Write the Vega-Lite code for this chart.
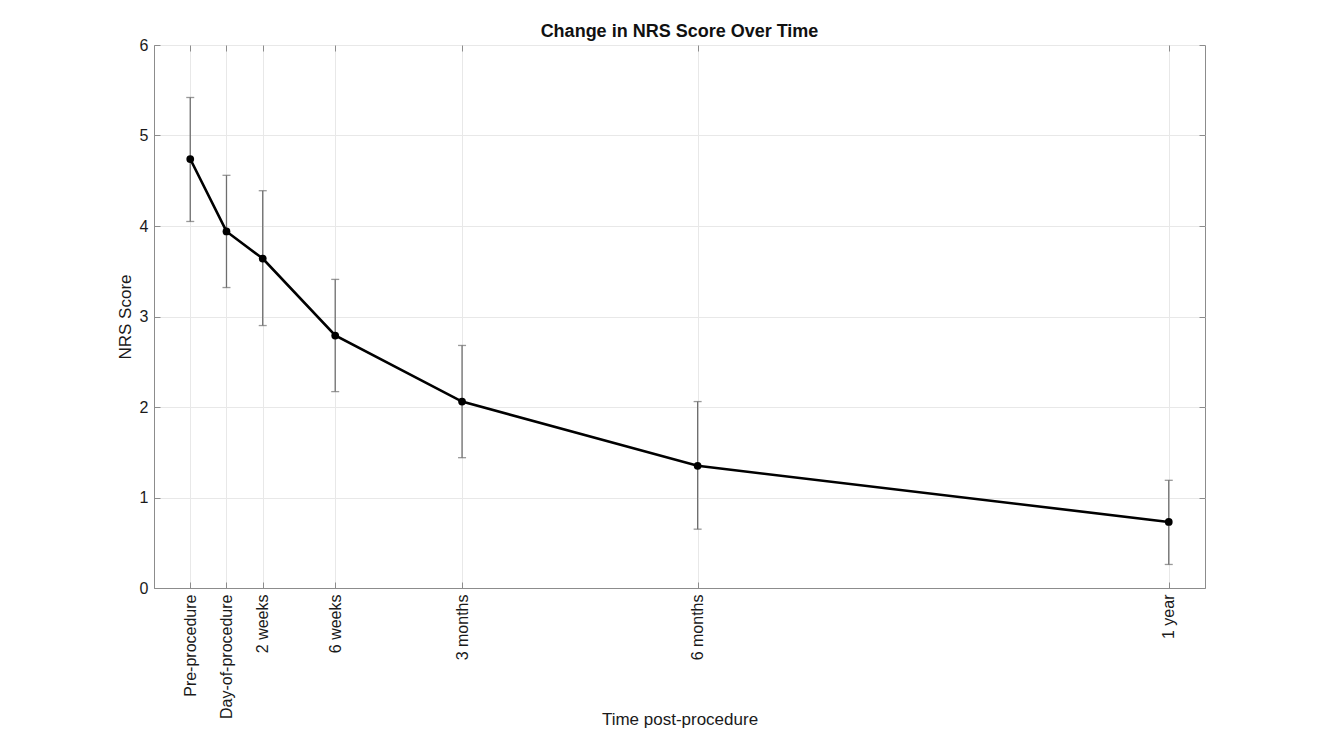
{
  "$schema": "https://vega.github.io/schema/vega-lite/v6.json",
  "autosize": "none",
  "padding": {"left": 154, "top": 45, "right": 113, "bottom": 157},
  "width": 1051,
  "height": 543,
  "background": "white",
  "config": {
    "font": "Liberation Sans",
    "view": {"stroke": "#8c8c8c", "strokeWidth": 1},
    "axis": {
      "domainColor": "#8c8c8c",
      "tickColor": "#8c8c8c",
      "gridColor": "#e8e8e8",
      "labelFont": "Liberation Sans",
      "titleFont": "Liberation Sans",
      "labelFontSize": 16,
      "titleFontSize": 17,
      "labelColor": "#1a1a1a",
      "titleColor": "#1a1a1a",
      "titleFontWeight": "normal"
    }
  },
  "title": {
    "text": "Change in NRS Score Over Time",
    "fontSize": 18,
    "fontWeight": "bold",
    "font": "Liberation Sans",
    "color": "#111111",
    "anchor": "middle",
    "offset": -4
  },
  "data": {
    "values": [
      {"time": "Pre-procedure", "week": -2, "mean": 4.74, "lo": 4.05, "hi": 5.42},
      {"time": "Day-of-procedure", "week": 0, "mean": 3.94, "lo": 3.32, "hi": 4.56},
      {"time": "2 weeks", "week": 2, "mean": 3.64, "lo": 2.90, "hi": 4.39},
      {"time": "6 weeks", "week": 6, "mean": 2.79, "lo": 2.17, "hi": 3.41},
      {"time": "3 months", "week": 13, "mean": 2.06, "lo": 1.44, "hi": 2.68},
      {"time": "6 months", "week": 26, "mean": 1.35, "lo": 0.65, "hi": 2.06},
      {"time": "1 year", "week": 52, "mean": 0.73, "lo": 0.26, "hi": 1.19}
    ]
  },
  "resolve": {"axis": {"x": "independent", "y": "independent"}},
  "layer": [
    {
      "mark": {"type": "rule", "color": "#6e6e6e", "strokeWidth": 1.3},
      "encoding": {
        "x": {
          "field": "week", "type": "quantitative",
          "scale": {"domain": [-4, 54], "nice": false, "zero": false},
          "axis": {
            "values": [-2, 0, 2, 6, 13, 26, 52],
            "labelExpr": "datum.value == -2 ? 'Pre-procedure' : datum.value == 0 ? 'Day-of-procedure' : datum.value == 2 ? '2 weeks' : datum.value == 6 ? '6 weeks' : datum.value == 13 ? '3 months' : datum.value == 26 ? '6 months' : '1 year'",
            "labelAngle": -90,
            "labelAlign": "right",
            "labelBaseline": "middle",
            "labelPadding": 12,
            "tickSize": -6,
            "grid": true,
            "title": "Time post-procedure",
            "titleY": 131,
            "titleBaseline": "middle",
            "orient": "bottom"
          }
        },
        "y": {
          "field": "lo", "type": "quantitative",
          "scale": {"domain": [0, 6], "nice": false},
          "axis": {
            "values": [0, 1, 2, 3, 4, 5, 6],
            "tickSize": -6,
            "labelPadding": 12,
            "grid": true,
            "title": "NRS Score",
            "titleX": -29,
            "titleBaseline": "middle"
          }
        },
        "y2": {"field": "hi"}
      }
    },
    {
      "mark": {"type": "tick", "color": "#6e6e6e", "size": 8, "thickness": 1.3, "orient": "horizontal"},
      "encoding": {
        "x": {"field": "week", "type": "quantitative", "axis": null},
        "y": {"field": "lo", "type": "quantitative", "axis": null}
      }
    },
    {
      "mark": {"type": "tick", "color": "#6e6e6e", "size": 8, "thickness": 1.3, "orient": "horizontal"},
      "encoding": {
        "x": {"field": "week", "type": "quantitative", "axis": null},
        "y": {"field": "hi", "type": "quantitative", "axis": null}
      }
    },
    {
      "mark": {"type": "line", "color": "#000000", "strokeWidth": 2.6},
      "encoding": {
        "x": {"field": "week", "type": "quantitative", "axis": null},
        "y": {"field": "mean", "type": "quantitative", "axis": null}
      }
    },
    {
      "mark": {"type": "point", "filled": true, "color": "#000000", "size": 60, "opacity": 1},
      "encoding": {
        "x": {
          "field": "week", "type": "quantitative",
          "axis": {"orient": "top", "values": [-2, 0, 2, 6, 13, 26, 52], "labels": false, "tickSize": -6, "grid": false, "domain": false, "title": null}
        },
        "y": {
          "field": "mean", "type": "quantitative",
          "axis": {"orient": "right", "values": [0, 1, 2, 3, 4, 5, 6], "labels": false, "tickSize": -6, "grid": false, "domain": false, "title": null}
        }
      }
    }
  ]
}
